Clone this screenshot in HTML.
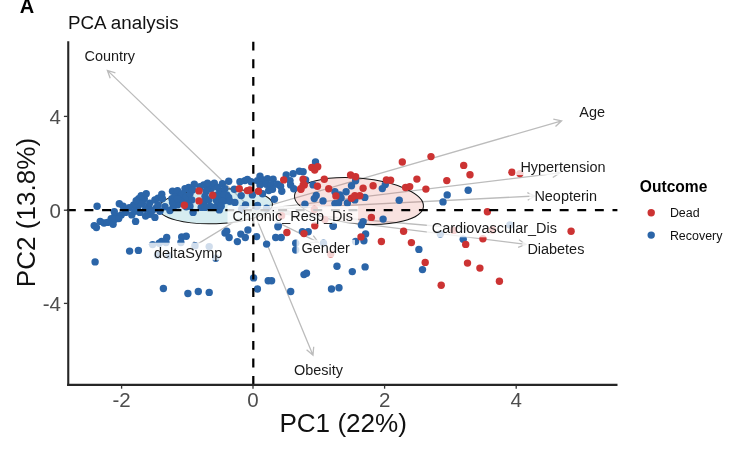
<!DOCTYPE html>
<html><head><meta charset="utf-8"><title>PCA analysis</title>
<style>
html,body{margin:0;padding:0;background:#fff;}
body{width:745px;height:453px;overflow:hidden;}
svg{display:block;}
text{font-family:"Liberation Sans",Arial,Helvetica,sans-serif;}
</style></head><body>
<svg width="745" height="453" viewBox="0 0 745 453">
<rect width="745" height="453" fill="#fff"/>

<g fill="none" stroke="#bcbcbc" stroke-width="1.3">
<path d="M253.0,210.2L107.4,70.4M115.4,72.8L107.4,70.4L110.2,78.3"/>
<path d="M253.0,210.2L561.6,120.8M555.5,126.5L561.6,120.8L553.3,119.2"/>
<path d="M253.0,210.2L559.8,172.8M552.8,177.5L559.8,172.8L551.9,169.9"/>
<path d="M253.0,210.2L535,196M527.7,200.2L535,196L527.3,192.6"/>
<path d="M253.0,210.2L470,229M462.2,232.2L470,229L462.9,224.6"/>
<path d="M253.0,210.2L526,244.4M518.1,247.3L526,244.4L519.0,239.7"/>
<path d="M253.0,210.2L318.3,242.4M309.9,242.5L318.3,242.4L313.3,235.7"/>
<path d="M253.0,210.2L313,355.2M306.6,349.7L313,355.2L313.7,346.8"/>
<path d="M253.0,210.2L190,248.6M194.4,241.4L190,248.6L198.4,248.0"/>
<path d="M253.0,210.2L290,212M282.3,215.4L290,212L282.7,207.8"/>
</g>
<ellipse cx="215.7" cy="206.3" rx="56.8" ry="17.4" transform="rotate(-2.2 215.7 206.3)" fill="#76C0CD" fill-opacity="0.3" stroke="#111" stroke-width="1"/>
<ellipse cx="359" cy="201" rx="64.7" ry="22.8" transform="rotate(5 359 201)" fill="#E16E64" fill-opacity="0.2" stroke="#111" stroke-width="1"/>
<g fill="#2B65A8">
<circle cx="104" cy="223" r="3.7"/>
<circle cx="115" cy="215.5" r="3.7"/>
<circle cx="111.2" cy="218.6" r="3.7"/>
<circle cx="121.2" cy="214.9" r="3.7"/>
<circle cx="138.7" cy="198.7" r="3.7"/>
<circle cx="138.1" cy="206.2" r="3.7"/>
<circle cx="144.3" cy="198.7" r="3.7"/>
<circle cx="148.7" cy="206.8" r="3.7"/>
<circle cx="149.9" cy="214.3" r="3.7"/>
<circle cx="158" cy="198.1" r="3.7"/>
<circle cx="162.4" cy="198.7" r="3.7"/>
<circle cx="156.2" cy="208" r="3.7"/>
<circle cx="133.7" cy="204.9" r="3.7"/>
<circle cx="178.7" cy="195.6" r="3.7"/>
<circle cx="181.9" cy="200.5" r="3.7"/>
<circle cx="177.5" cy="204.9" r="3.7"/>
<circle cx="187.5" cy="201.8" r="3.7"/>
<circle cx="186.2" cy="206.8" r="3.7"/>
<circle cx="201.2" cy="207.4" r="3.7"/>
<circle cx="211.2" cy="188.7" r="3.7"/>
<circle cx="207.5" cy="187.5" r="3.7"/>
<circle cx="217.4" cy="194.9" r="3.7"/>
<circle cx="219.9" cy="199.3" r="3.7"/>
<circle cx="217.4" cy="205.5" r="3.7"/>
<circle cx="224.9" cy="200.5" r="3.7"/>
<circle cx="212.4" cy="185" r="3.7"/>
<circle cx="200" cy="186.8" r="3.7"/>
<circle cx="188.7" cy="187.5" r="3.7"/>
<circle cx="210" cy="206.2" r="3.7"/>
<circle cx="226.8" cy="194.9" r="3.7"/>
<circle cx="173.1" cy="207.4" r="3.7"/>
<circle cx="171.9" cy="198.7" r="3.7"/>
<circle cx="97.1" cy="206.3" r="3.7"/>
<circle cx="94.2" cy="225.6" r="3.7"/>
<circle cx="96.4" cy="227.6" r="3.7"/>
<circle cx="100.2" cy="221.4" r="3.7"/>
<circle cx="107.5" cy="222.4" r="3.7"/>
<circle cx="113.1" cy="224.3" r="3.7"/>
<circle cx="115" cy="219.3" r="3.7"/>
<circle cx="118.7" cy="218.6" r="3.7"/>
<circle cx="114.3" cy="211.8" r="3.7"/>
<circle cx="119.3" cy="203.7" r="3.7"/>
<circle cx="123.1" cy="206.2" r="3.7"/>
<circle cx="125.6" cy="212.4" r="3.7"/>
<circle cx="129.3" cy="207.7" r="3.7"/>
<circle cx="131.8" cy="214.9" r="3.7"/>
<circle cx="135.6" cy="221.4" r="3.7"/>
<circle cx="136.2" cy="200.6" r="3.7"/>
<circle cx="134.9" cy="211.2" r="3.7"/>
<circle cx="141.2" cy="195.6" r="3.7"/>
<circle cx="146.2" cy="193.7" r="3.7"/>
<circle cx="142.4" cy="203.7" r="3.7"/>
<circle cx="139.9" cy="212.4" r="3.7"/>
<circle cx="145.6" cy="209.3" r="3.7"/>
<circle cx="145.6" cy="216.1" r="3.7"/>
<circle cx="149.7" cy="203.1" r="3.7"/>
<circle cx="152.4" cy="210.5" r="3.7"/>
<circle cx="154.9" cy="217.4" r="3.7"/>
<circle cx="154.9" cy="199.9" r="3.7"/>
<circle cx="161.8" cy="194.3" r="3.7"/>
<circle cx="158" cy="204.9" r="3.7"/>
<circle cx="159.9" cy="211.2" r="3.7"/>
<circle cx="164.9" cy="206.8" r="3.7"/>
<circle cx="169.9" cy="210.5" r="3.7"/>
<circle cx="172.5" cy="191.2" r="3.7"/>
<circle cx="177.5" cy="190.6" r="3.7"/>
<circle cx="185" cy="188.7" r="3.7"/>
<circle cx="182.5" cy="193.7" r="3.7"/>
<circle cx="175" cy="196.8" r="3.7"/>
<circle cx="172.5" cy="202.4" r="3.7"/>
<circle cx="177.5" cy="198.7" r="3.7"/>
<circle cx="186.2" cy="196.8" r="3.7"/>
<circle cx="190" cy="193.7" r="3.7"/>
<circle cx="194.3" cy="184.3" r="3.7"/>
<circle cx="192.5" cy="190" r="3.7"/>
<circle cx="191.8" cy="199.9" r="3.7"/>
<circle cx="190" cy="206.2" r="3.7"/>
<circle cx="193.1" cy="212.4" r="3.7"/>
<circle cx="203.7" cy="185" r="3.7"/>
<circle cx="207.5" cy="183.1" r="3.7"/>
<circle cx="206.2" cy="191.2" r="3.7"/>
<circle cx="205" cy="196.2" r="3.7"/>
<circle cx="203.7" cy="202.4" r="3.7"/>
<circle cx="205" cy="207.4" r="3.7"/>
<circle cx="208.7" cy="199.9" r="3.7"/>
<circle cx="214.3" cy="183.1" r="3.7"/>
<circle cx="218.1" cy="187.5" r="3.7"/>
<circle cx="219.9" cy="192.4" r="3.7"/>
<circle cx="216.2" cy="199.9" r="3.7"/>
<circle cx="213.7" cy="207.4" r="3.7"/>
<circle cx="219.3" cy="209.9" r="3.7"/>
<circle cx="222.4" cy="183.7" r="3.7"/>
<circle cx="224.9" cy="188.7" r="3.7"/>
<circle cx="223.7" cy="194.9" r="3.7"/>
<circle cx="222.4" cy="201.2" r="3.7"/>
<circle cx="221.2" cy="206.2" r="3.7"/>
<circle cx="228.7" cy="181.2" r="3.7"/>
<circle cx="228.7" cy="197.4" r="3.7"/>
<circle cx="229.9" cy="201.2" r="3.7"/>
<circle cx="234.3" cy="189.3" r="3.7"/>
<circle cx="234.9" cy="202.4" r="3.7"/>
<circle cx="239.9" cy="181.8" r="3.7"/>
<circle cx="241.2" cy="195.6" r="3.7"/>
<circle cx="244.9" cy="180.6" r="3.7"/>
<circle cx="247.4" cy="179.4" r="3.7"/>
<circle cx="245.5" cy="204.9" r="3.7"/>
<circle cx="251.1" cy="181.8" r="3.7"/>
<circle cx="252.4" cy="194.9" r="3.7"/>
<circle cx="315.5" cy="161.9" r="3.7"/>
<circle cx="260" cy="176.2" r="3.7"/>
<circle cx="257.5" cy="180.6" r="3.7"/>
<circle cx="262.5" cy="179.9" r="3.7"/>
<circle cx="267.5" cy="178.7" r="3.7"/>
<circle cx="273.1" cy="179.3" r="3.7"/>
<circle cx="260" cy="184.9" r="3.7"/>
<circle cx="266.2" cy="184.3" r="3.7"/>
<circle cx="271.2" cy="184.9" r="3.7"/>
<circle cx="277.5" cy="184.3" r="3.7"/>
<circle cx="268.7" cy="190.5" r="3.7"/>
<circle cx="272.5" cy="189.3" r="3.7"/>
<circle cx="262.5" cy="193.7" r="3.7"/>
<circle cx="280.6" cy="186.2" r="3.7"/>
<circle cx="281.8" cy="191.2" r="3.7"/>
<circle cx="274.4" cy="199.3" r="3.7"/>
<circle cx="286.2" cy="175" r="3.7"/>
<circle cx="290" cy="180.6" r="3.7"/>
<circle cx="290.6" cy="184.9" r="3.7"/>
<circle cx="293.1" cy="173.7" r="3.7"/>
<circle cx="293.7" cy="188.7" r="3.7"/>
<circle cx="299.3" cy="171.2" r="3.7"/>
<circle cx="303.1" cy="171.8" r="3.7"/>
<circle cx="305.6" cy="179.9" r="3.7"/>
<circle cx="313.1" cy="184.9" r="3.7"/>
<circle cx="316.2" cy="195.5" r="3.7"/>
<circle cx="314.3" cy="198.6" r="3.7"/>
<circle cx="323" cy="200.9" r="3.7"/>
<circle cx="304.9" cy="204.3" r="3.7"/>
<circle cx="334.9" cy="191.8" r="3.7"/>
<circle cx="339.9" cy="194.9" r="3.7"/>
<circle cx="341.1" cy="198" r="3.7"/>
<circle cx="346.1" cy="191.8" r="3.7"/>
<circle cx="347.4" cy="203" r="3.7"/>
<circle cx="334.9" cy="203.6" r="3.7"/>
<circle cx="338.6" cy="203" r="3.7"/>
<circle cx="257.5" cy="205.5" r="3.7"/>
<circle cx="256.6" cy="206.6" r="3.7"/>
<circle cx="355.6" cy="180.8" r="3.7"/>
<circle cx="351.5" cy="185.8" r="3.7"/>
<circle cx="354.8" cy="199.9" r="3.7"/>
<circle cx="364.8" cy="197.4" r="3.7"/>
<circle cx="382.3" cy="188.6" r="3.7"/>
<circle cx="385.3" cy="184.6" r="3.7"/>
<circle cx="399.2" cy="200.3" r="3.7"/>
<circle cx="443" cy="201.9" r="3.7"/>
<circle cx="447.2" cy="194.9" r="3.7"/>
<circle cx="383.1" cy="219.1" r="3.7"/>
<circle cx="363.1" cy="221.6" r="3.7"/>
<circle cx="361.4" cy="224.9" r="3.7"/>
<circle cx="333.2" cy="226.2" r="3.7"/>
<circle cx="365.6" cy="234" r="3.7"/>
<circle cx="363.9" cy="240.7" r="3.7"/>
<circle cx="355.6" cy="241.5" r="3.7"/>
<circle cx="468.2" cy="190.3" r="3.7"/>
<circle cx="463.2" cy="239.2" r="3.7"/>
<circle cx="95.1" cy="261.9" r="3.7"/>
<circle cx="129.6" cy="251.1" r="3.7"/>
<circle cx="138.4" cy="250.4" r="3.7"/>
<circle cx="163.4" cy="288.5" r="3.7"/>
<circle cx="187.9" cy="293.5" r="3.7"/>
<circle cx="198.3" cy="291.5" r="3.7"/>
<circle cx="166.7" cy="237.5" r="3.7"/>
<circle cx="181.7" cy="237" r="3.7"/>
<circle cx="186.2" cy="236.3" r="3.7"/>
<circle cx="161.7" cy="241.5" r="3.7"/>
<circle cx="225" cy="233" r="3.7"/>
<circle cx="229.1" cy="237.5" r="3.7"/>
<circle cx="237.4" cy="241.6" r="3.7"/>
<circle cx="240.8" cy="234.1" r="3.7"/>
<circle cx="245.3" cy="237.5" r="3.7"/>
<circle cx="247.9" cy="230" r="3.7"/>
<circle cx="256.6" cy="236.6" r="3.7"/>
<circle cx="266.6" cy="244.1" r="3.7"/>
<circle cx="275.7" cy="237.5" r="3.7"/>
<circle cx="281.2" cy="237.5" r="3.7"/>
<circle cx="277.9" cy="226.7" r="3.7"/>
<circle cx="308.2" cy="231.7" r="3.7"/>
<circle cx="302.4" cy="231.6" r="3.7"/>
<circle cx="295.7" cy="243.3" r="3.7"/>
<circle cx="295.7" cy="250" r="3.7"/>
<circle cx="253.6" cy="277.9" r="3.7"/>
<circle cx="268.2" cy="280.7" r="3.7"/>
<circle cx="271.6" cy="280.7" r="3.7"/>
<circle cx="257.4" cy="289" r="3.7"/>
<circle cx="290.7" cy="291.5" r="3.7"/>
<circle cx="304" cy="274.6" r="3.7"/>
<circle cx="306.5" cy="273.2" r="3.7"/>
<circle cx="209.2" cy="292.4" r="3.7"/>
<circle cx="418.9" cy="249.4" r="3.7"/>
<circle cx="422.5" cy="269.6" r="3.7"/>
<circle cx="337" cy="266.2" r="3.7"/>
<circle cx="352.3" cy="271.6" r="3.7"/>
<circle cx="365.1" cy="266.9" r="3.7"/>
<circle cx="331.5" cy="289" r="3.7"/>
<circle cx="339" cy="287.7" r="3.7"/>
<circle cx="226.7" cy="231.3" r="3.7"/>
<circle cx="278.3" cy="225.8" r="3.7"/>
<circle cx="333.2" cy="225.8" r="3.7"/>
<circle cx="152.6" cy="244.6" r="3.7"/>
<circle cx="159.2" cy="243.3" r="3.7"/>
<circle cx="166" cy="242.5" r="3.7"/>
<circle cx="180.9" cy="242.5" r="3.7"/>
<circle cx="195" cy="245.8" r="3.7"/>
<circle cx="209.2" cy="246.6" r="3.7"/>
<circle cx="215.8" cy="258.3" r="3.7"/>
<circle cx="323.5" cy="243.3" r="3.7"/>
<circle cx="241.6" cy="209.1" r="3.7"/>
<circle cx="266.6" cy="208.3" r="3.7"/>
<circle cx="440.3" cy="234" r="3.7"/>
<circle cx="509.9" cy="225" r="3.7"/>
<circle cx="157.5" cy="255.3" r="3.7"/>
<circle cx="169" cy="255.8" r="3.7"/>
</g>
<g fill="#CC3333">
<circle cx="184.4" cy="205.2" r="3.7"/>
<circle cx="199" cy="190.9" r="3.7"/>
<circle cx="199" cy="200.9" r="3.7"/>
<circle cx="212.7" cy="195.2" r="3.7"/>
<circle cx="239.3" cy="188.7" r="3.7"/>
<circle cx="247.4" cy="190.6" r="3.7"/>
<circle cx="249.9" cy="190" r="3.7"/>
<circle cx="258.5" cy="191.2" r="3.7"/>
<circle cx="283.7" cy="179.9" r="3.7"/>
<circle cx="303.1" cy="179.3" r="3.7"/>
<circle cx="304.3" cy="184.9" r="3.7"/>
<circle cx="300.9" cy="189.3" r="3.7"/>
<circle cx="311.8" cy="167.5" r="3.7"/>
<circle cx="317.7" cy="166.8" r="3.7"/>
<circle cx="314.7" cy="170" r="3.7"/>
<circle cx="324.3" cy="179.3" r="3.7"/>
<circle cx="317.4" cy="186.2" r="3.7"/>
<circle cx="328.7" cy="188.7" r="3.7"/>
<circle cx="335.9" cy="195.9" r="3.7"/>
<circle cx="350.6" cy="175" r="3.7"/>
<circle cx="355.6" cy="176.7" r="3.7"/>
<circle cx="363.1" cy="188.3" r="3.7"/>
<circle cx="373.1" cy="185.8" r="3.7"/>
<circle cx="351.5" cy="198.3" r="3.7"/>
<circle cx="354.8" cy="195.8" r="3.7"/>
<circle cx="359.8" cy="195.8" r="3.7"/>
<circle cx="386.4" cy="180" r="3.7"/>
<circle cx="390.6" cy="180.3" r="3.7"/>
<circle cx="405.6" cy="187.5" r="3.7"/>
<circle cx="409.7" cy="186.6" r="3.7"/>
<circle cx="416.9" cy="179.1" r="3.7"/>
<circle cx="425.9" cy="189.1" r="3.7"/>
<circle cx="446.8" cy="180.6" r="3.7"/>
<circle cx="371.4" cy="217.4" r="3.7"/>
<circle cx="403.6" cy="231.2" r="3.7"/>
<circle cx="361" cy="236.9" r="3.7"/>
<circle cx="381.4" cy="241.5" r="3.7"/>
<circle cx="411.4" cy="242.6" r="3.7"/>
<circle cx="431" cy="156.6" r="3.7"/>
<circle cx="463.7" cy="165.4" r="3.7"/>
<circle cx="470" cy="174.8" r="3.7"/>
<circle cx="511.9" cy="172.3" r="3.7"/>
<circle cx="519.9" cy="173.6" r="3.7"/>
<circle cx="487.4" cy="211.8" r="3.7"/>
<circle cx="571.1" cy="231.2" r="3.7"/>
<circle cx="482.9" cy="238.7" r="3.7"/>
<circle cx="465.7" cy="244.4" r="3.7"/>
<circle cx="467.5" cy="263.1" r="3.7"/>
<circle cx="479.9" cy="268.1" r="3.7"/>
<circle cx="499.4" cy="281.3" r="3.7"/>
<circle cx="441.2" cy="285.3" r="3.7"/>
<circle cx="402.3" cy="162" r="3.7"/>
<circle cx="286.9" cy="232.5" r="3.7"/>
<circle cx="304" cy="233.6" r="3.7"/>
<circle cx="314.8" cy="225.8" r="3.7"/>
<circle cx="425.2" cy="262.4" r="3.7"/>
<circle cx="303.2" cy="185" r="3.7"/>
<circle cx="300.7" cy="188.8" r="3.7"/>
<circle cx="281.6" cy="215.8" r="3.7"/>
<circle cx="314.4" cy="209.5" r="3.7"/>
<circle cx="324.9" cy="219.6" r="3.7"/>
<circle cx="330.7" cy="254.1" r="3.7"/>
<circle cx="453.7" cy="230.4" r="3.7"/>
<circle cx="492.4" cy="230" r="3.7"/>
</g>
<g stroke="#000" stroke-width="2.25" stroke-dasharray="8.9 8.7" fill="none">
<path d="M66.9,210.15H617.4"/><path d="M253.3,385V41"/></g>
<g fill="#fff" fill-opacity="0.78">
<rect x="79.5" y="46.4" width="60.8" height="17.6"/>
<rect x="574.3" y="102.0" width="35.9" height="17.6"/>
<rect x="515.4" y="157.5" width="95.3" height="17.6"/>
<rect x="529.4" y="186.2" width="72.8" height="17.6"/>
<rect x="426.8" y="219.7" width="135.5" height="17.6"/>
<rect x="522.4" y="241.4" width="67.2" height="17.6"/>
<rect x="296.6" y="239.8" width="58.4" height="17.6"/>
<rect x="289.0" y="360.2" width="59.2" height="17.6"/>
<rect x="149.0" y="242.7" width="78.5" height="17.6"/>
<rect x="227.5" y="206.0" width="130.6" height="17.6"/>
</g>
<g font-size="14.45" fill="#1a1a1a">
<text x="84.5" y="61.2">Country</text>
<text x="579.3" y="116.8">Age</text>
<text x="520.4" y="172.3">Hypertension</text>
<text x="534.4" y="201">Neopterin</text>
<text x="431.8" y="232.7">Cardiovascular_Dis</text>
<text x="527.4" y="254.4">Diabetes</text>
<text x="301.6" y="252.8">Gender</text>
<text x="294" y="375">Obesity</text>
<text x="154" y="257.5">deltaSymp</text>
<text x="232.5" y="220.8">Chronic_Resp_Dis</text>
</g>
<g stroke="#262626" stroke-width="2.1" fill="none"><path d="M68.25,41.2V385.9"/><path d="M67.2,384.9H617.5"/></g>
<g stroke="#333" stroke-width="1.3" fill="none">
<path d="M121.6,385.5v3.2"/>
<path d="M253,385.5v3.2"/>
<path d="M384.6,385.5v3.2"/>
<path d="M516.2,385.5v3.2"/>
<path d="M67.5,116.4h-3.6"/>
<path d="M67.5,210.2h-3.6"/>
<path d="M67.5,303.4h-3.6"/>
</g>
<g font-size="20.5" fill="#4d4d4d" text-anchor="middle">
<text x="121.6" y="406.6">-2</text>
<text x="253" y="406.6">0</text>
<text x="384.6" y="406.6">2</text>
<text x="516.2" y="406.6">4</text>
</g><g font-size="20.5" fill="#4d4d4d" text-anchor="end">
<text x="60.9" y="123.7">4</text>
<text x="60.9" y="217.5">0</text>
<text x="60.9" y="310.7">-4</text>
</g>
<text x="343.2" y="432" font-size="26.1" text-anchor="middle" fill="#111">PC1 (22%)</text>
<text transform="translate(34.9,212.5) rotate(-90)" font-size="26.1" text-anchor="middle" fill="#111">PC2 (13.8%)</text>
<text x="68" y="28.8" font-size="18.8" fill="#111">PCA analysis</text>
<text x="19.7" y="13.2" font-size="20" font-weight="bold" fill="#000">A</text>
<text x="639.8" y="192.4" font-size="15.6" font-weight="bold" fill="#000">Outcome</text>
<circle cx="651.2" cy="212.7" r="3.7" fill="#CC3333"/><circle cx="651.2" cy="235.1" r="3.7" fill="#2B65A8"/>
<text x="669.9" y="217.1" font-size="12.45" fill="#111">Dead</text>
<text x="669.9" y="239.5" font-size="12.45" fill="#111">Recovery</text>
</svg></body></html>
